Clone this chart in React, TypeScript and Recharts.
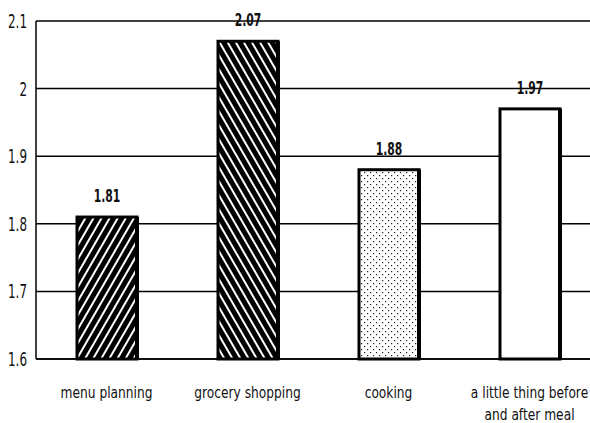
import React from "react";
import {
  BarChart,
  Bar,
  XAxis,
  YAxis,
  CartesianGrid,
  Cell,
  LabelList,
} from "recharts";

const categories = [
  "menu planning",
  "grocery shopping",
  "cooking",
  "a little thing before and after meal",
];
const scores = [1.81, 2.07, 1.88, 1.97];
const yTicks = [1.6, 1.7, 1.8, 1.9, 2, 2.1];
const fills = ["url(#hatchR)", "url(#hatchL)", "url(#dots)", "#ffffff"];

const data = categories.map((name, i) => ({ name, value: scores[i] }));

const FONT = "'DejaVu Sans', sans-serif";

function wrap(label: string, max: number) {
  const lines: string[] = [];
  let cur = "";
  for (const w of label.split(" ")) {
    const next = cur ? cur + " " + w : w;
    if (next.length > max && cur) {
      lines.push(cur);
      cur = w;
    } else cur = next;
  }
  if (cur) lines.push(cur);
  return lines;
}

// squeezed text, the original uses a very narrow face
function Narrow({ x, y, sx, anchor, size, bold, children }: any) {
  return (
    <text
      transform={`translate(${x},${y}) scale(${sx},1)`}
      textAnchor={anchor}
      fontFamily={FONT}
      fontSize={size}
      fontWeight={bold ? "bold" : "normal"}
      fill="#111"
    >
      {children}
    </text>
  );
}

function CatTick(props: any) {
  const { x, y, payload } = props;
  const lines = wrap(payload.value, 21);
  return (
    <g>
      {lines.map((l, i) => (
        <Narrow key={i} x={x} y={y + 31 + i * 22} sx={0.79} anchor="middle" size={15.5}>
          {l}
        </Narrow>
      ))}
    </g>
  );
}

function ValueTick(props: any) {
  const { y, payload } = props;
  return (
    <Narrow x={27} y={y + 7} sx={0.63} anchor="end" size={19}>
      {String(payload.value)}
    </Narrow>
  );
}

function ValueLabel(props: any) {
  const { x, y, width, value } = props;
  return (
    <Narrow x={x + width / 2} y={y - 15} sx={0.6} anchor="middle" size={18} bold>
      {String(value)}
    </Narrow>
  );
}

function BoxBar(props: any) {
  const { x, y, width, height, fill } = props;
  return (
    <g>
      <rect x={x} y={y} width={width} height={height} fill={fill} stroke="#000" strokeWidth={3} />
      <rect x={x + width - 2} y={y} width={4} height={height} fill="#000" />
    </g>
  );
}

export default function App() {
  return (
    <div style={{ position: "absolute", left: 0, top: 0, width: 590, height: 423, overflow: "hidden", background: "#fff" }}>
      <svg width={0} height={0} style={{ position: "absolute" }}>
        <defs>
          <pattern id="hatchR" width={7} height={7} patternUnits="userSpaceOnUse" patternTransform="rotate(30)">
            <rect width={7} height={7} fill="#000" />
            <rect x={0} y={0} width={2} height={7} fill="#fff" />
          </pattern>
          <pattern id="hatchL" width={7} height={7} patternUnits="userSpaceOnUse" patternTransform="rotate(-30)">
            <rect width={7} height={7} fill="#000" />
            <rect x={0} y={0} width={2} height={7} fill="#fff" />
          </pattern>
          <pattern id="dots" width={6} height={6} patternUnits="userSpaceOnUse">
            <rect width={6} height={6} fill="#fff" />
            <rect x={1} y={1} width={1.2} height={1.2} fill="#222" />
            <rect x={4} y={4} width={1.2} height={1.2} fill="#222" />
          </pattern>
        </defs>
      </svg>
      <BarChart width={600} height={423} data={data} margin={{ top: 21, right: 0, bottom: 0, left: 0 }}>
        <CartesianGrid vertical={false} stroke="#000" strokeWidth={1.5} />
        <XAxis
          dataKey="name"
          axisLine={{ stroke: "#000", strokeWidth: 1.5 }}
          tickLine={false}
          tick={<CatTick />}
          interval={0}
          height={64}
        />
        <YAxis
          domain={[1.6, 2.1]}
          ticks={yTicks}
          axisLine={{ stroke: "#000", strokeWidth: 1.5 }}
          tickLine={false}
          width={36}
          tick={<ValueTick />}
        />
        <Bar dataKey="value" barSize={60} shape={<BoxBar />} isAnimationActive={false}>
          {data.map((d, i) => (
            <Cell key={d.name} fill={fills[i]} />
          ))}
          <LabelList dataKey="value" content={<ValueLabel />} />
        </Bar>
      </BarChart>
    </div>
  );
}
